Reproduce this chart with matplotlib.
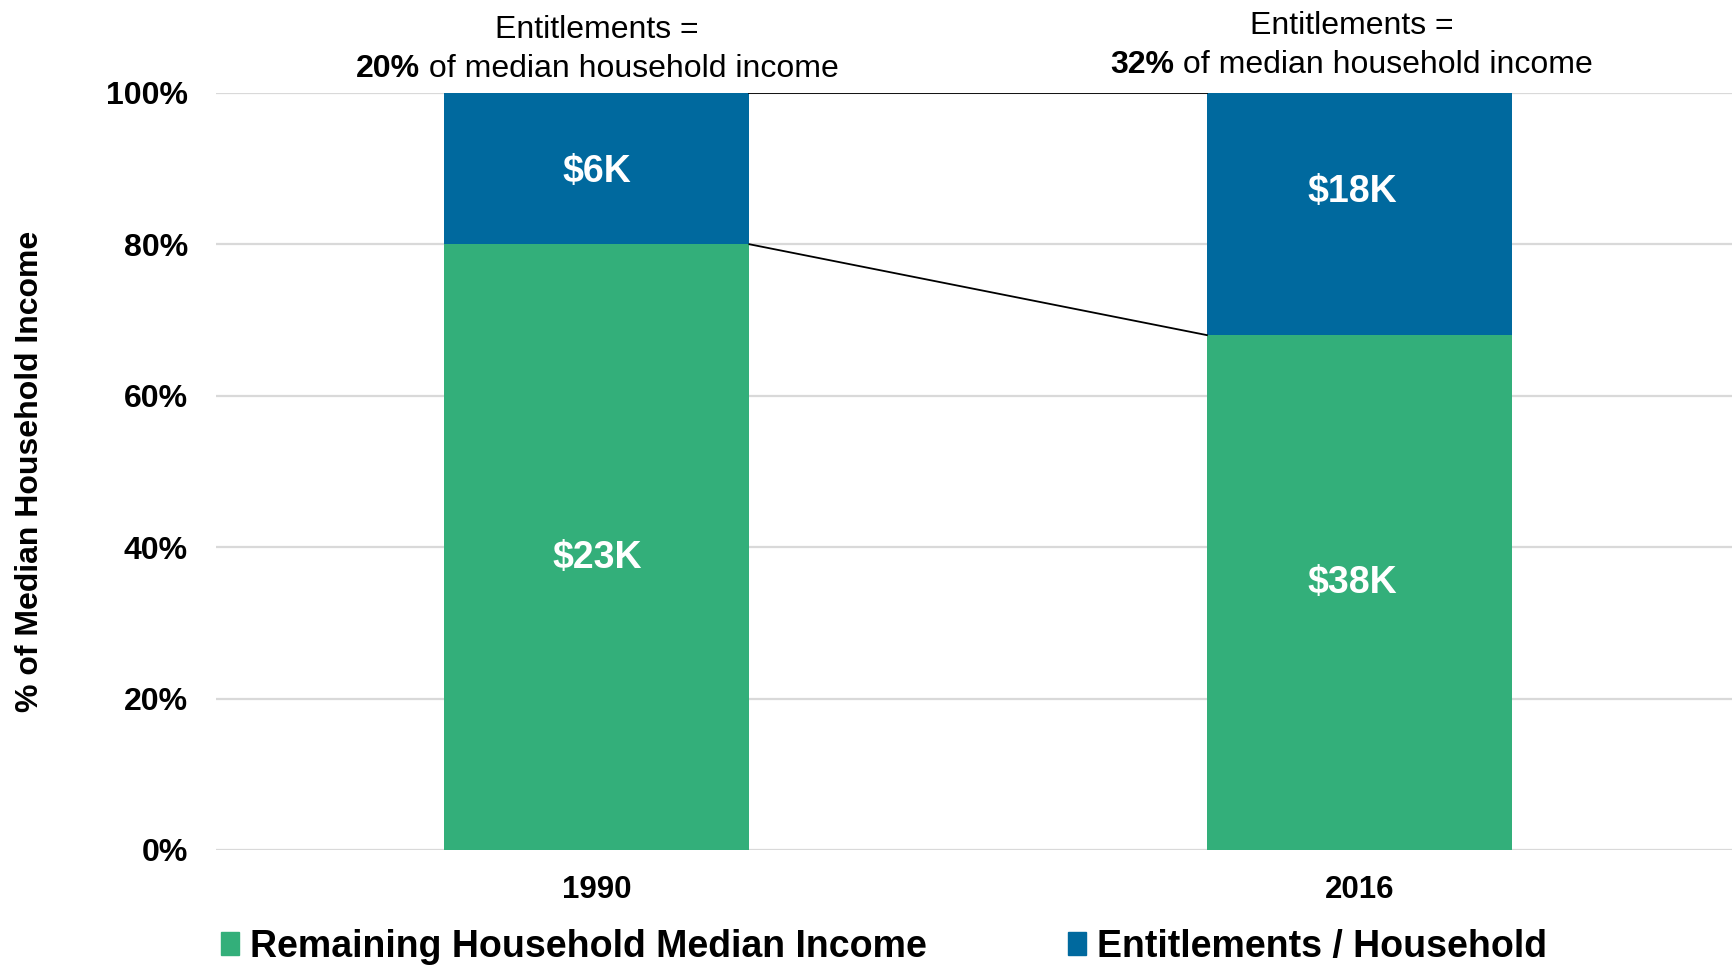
import matplotlib
matplotlib.use("Agg")
import matplotlib.pyplot as plt
from matplotlib.patches import Patch

years = ["1990", "2016"]
remaining_pct = [80, 68]
entitlement_pct = [20, 32]
remaining_labels = ["$23K", "$38K"]
entitlement_labels = ["$6K", "$18K"]
share_text = ["20%", "32%"]
yticks = [0, 20, 40, 60, 80, 100]

green = "#33AF7A"
blue = "#00699E"
plt.rcParams["font.family"] = ["Liberation Sans", "DejaVu Sans"]

fig = plt.figure(figsize=(17.33, 9.67), dpi=100)
ax = fig.add_axes([0.1245, 0.121, 0.8755, 0.783])

x = [0, 1]
width = 0.4
ax.bar(x, remaining_pct, width, color=green, zorder=2)
ax.bar(x, entitlement_pct, width, bottom=remaining_pct, color=blue, zorder=2)

# label anchor positions
text_x = [0, 0.99]
remaining_label_y = [38.5, 35.3]
entitlement_label_y = [89.6, 86.9]
for i in x:
    ax.text(text_x[i], remaining_label_y[i], remaining_labels[i], ha="center", va="center",
            color="white", fontsize=27, fontweight="bold", zorder=3)
    ax.text(text_x[i], entitlement_label_y[i], entitlement_labels[i],
            ha="center", va="center", color="white", fontsize=27,
            fontweight="bold", zorder=3)

# connector lines between the bars
ax.plot([x[0] + width / 2, x[1] - width / 2], [100, 100], color="black", lw=1.3, zorder=3)
ax.plot([x[0] + width / 2, x[1] - width / 2], [remaining_pct[0], remaining_pct[1]],
        color="black", lw=1.3, zorder=3)

ax.set_xlim(-0.5, 1.49)
ax.set_ylim(0, 100)
ax.set_yticks(yticks)
ax.set_yticklabels([f"{t}%" for t in yticks], fontsize=23, fontweight="bold")
ax.set_xticks(x)
ax.set_xticklabels(years, fontsize=22.5, fontweight="bold")
ax.tick_params(axis="y", length=0, pad=20)
ax.tick_params(axis="x", length=0, pad=18)
ax.grid(axis="y", color="#D9D9D9", lw=1.6, zorder=0)
for s in ax.spines.values():
    s.set_visible(False)
ax.set_ylabel("% of Median Household Income", fontsize=23, fontweight="bold", labelpad=44)

# annotations above the bars
fig.canvas.draw()
renderer = fig.canvas.get_renderer()
tops = [(108.3, 103.1), (108.8, 103.7)]
for i in x:
    y1, y2 = tops[i]
    ax.text(text_x[i], y1, "Entitlements =", ha="center", va="center", fontsize=23,
            clip_on=False)
    t_b = ax.text(0, 0, share_text[i], fontsize=23, fontweight="bold")
    t_r = ax.text(0, 0, " of median household income", fontsize=23)
    wb = t_b.get_window_extent(renderer).width
    wr = t_r.get_window_extent(renderer).width
    cx, cy = ax.transData.transform((text_x[i], y2))
    inv = ax.transData.inverted()
    left = cx - (wb + wr) / 2
    xb = inv.transform((left, cy))[0]
    xr = inv.transform((left + wb, cy))[0]
    t_b.set_position((xb, y2))
    t_b.set_va("center")
    t_r.set_position((xr, y2))
    t_r.set_va("center")
    t_b.set_clip_on(False)
    t_r.set_clip_on(False)

handles = [Patch(color=green, label="Remaining Household Median Income"),
           Patch(color=blue, label="Entitlements / Household")]
fig.legend(handles=handles, loc="center", bbox_to_anchor=(0.51, 0.021), ncol=2,
           frameon=False, handlelength=0.48, handleheight=0.55, handletextpad=0.3,
           columnspacing=3.75, prop={"weight": "bold", "size": 27})

fig.savefig("out.png", dpi=100)
